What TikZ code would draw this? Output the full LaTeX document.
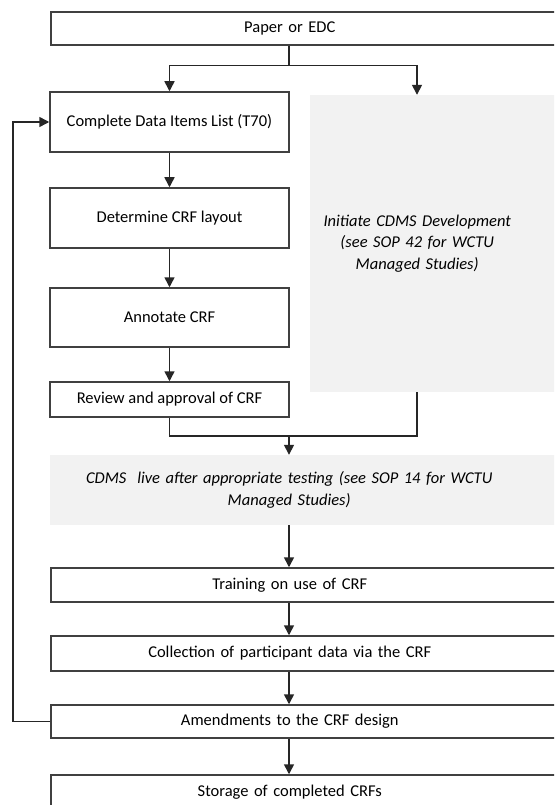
\documentclass[tikz,border=0pt]{standalone}
\usepackage{fontspec}
\setmainfont{Carlito}
\usetikzlibrary{positioning,arrows.meta}

\newcommand{\widetext}[1]{\parbox{478pt}{\centering #1}}
\newcommand{\sidetext}[1]{\parbox{214pt}{\centering #1}}

\begin{document}
\begin{tikzpicture}[x=1pt,y=-1pt,node distance=96pt,on grid,
    every node/.append style={font=\fontsize{16.5}{20}\selectfont},
    box/.style={draw=black!75, line width=1.5pt, fill=white, minimum width=239pt,
      align=center, inner sep=0pt},
    wide/.style={box, anchor=west, text width=560pt, align=left},
    shade/.style={fill=black!5, anchor=west, inner sep=0pt, text width=300pt,
      align=left, font=\fontsize{16.5}{21.5}\selectfont\itshape},
    line/.style={draw=black!85, line width=1.5pt},
    arr/.style={line, -{Triangle[width=10pt,length=10pt]}}]
    \useasboundingbox (0,0) rectangle (554,805);
    \clip (0,0) rectangle (554,805);
    \fill[white] (0,0) rectangle (554,805);
    \coordinate (rcol) at (417,0);
    \coordinate (mid) at (289,0);
    % top
    \node[wide, minimum height=33pt] (paper) at (50,28.5) {\widetext{Paper or EDC}};
    % left column
    \node[box, minimum height=60pt] (cdl) at (169.5,122) {Complete Data Items List (T70)};
    \node[box, minimum height=60pt] (layout) [below=of cdl] {Determine CRF layout};
    \node[box, minimum height=59pt] (annot) [below=99.5pt of layout] {Annotate CRF};
    \node[box, minimum height=35pt] (review) [below=82pt of annot] {Review and approval of CRF};
    % right column
    \node[shade, minimum height=297pt] (initiate) at (310,243.5)
      {\sidetext{Initiate CDMS Development\\ (see SOP 42 for WCTU\\ Managed Studies)}};
    % main column
    \node[shade, text width=560pt, minimum height=70pt] (cdms) at (50,490)
      {\widetext{CDMS\ \ live after appropriate testing (see SOP 14 for WCTU\\ Managed Studies)}};
    \node[wide, minimum height=34pt] (training) at (50,585) {\widetext{Training on use of CRF}};
    \node[wide, minimum height=35pt] (collect) at (50,653.5) {\widetext{Collection of participant data via the CRF}};
    \node[wide, minimum height=33pt] (amend) at (50,721.5) {\widetext{Amendments to the CRF design}};
    \node[wide, minimum height=34pt] (storage) at (50,792) {\widetext{Storage of completed CRFs}};

    \draw[line] (paper.south -| mid) -- ++(0,20) coordinate (fork);
    \draw[arr] (fork) -| (cdl.north);
    \draw[arr] (fork) -| (initiate.north -| rcol);
    \draw[arr] (cdl) -- (layout);
    \draw[arr] (layout) -- (annot);
    \draw[arr] (annot) -- (review);
    \draw[line] (review.south) -- ++(0,18) -| (initiate.south -| rcol);
    \draw[arr] (review.south -| mid) ++(0,18) -- (cdms.north -| mid);
    \draw[arr] (cdms.south -| mid) -- (training.north -| mid);
    \draw[arr] (training.south -| mid) -- (collect.north -| mid);
    \draw[arr] (collect.south -| mid) -- (amend.north -| mid);
    \draw[arr] (amend.south -| mid) -- (storage.north -| mid);
    \draw[arr] (amend.west) -- ++(-37,0) |- (cdl.west);
\end{tikzpicture}
\end{document}
